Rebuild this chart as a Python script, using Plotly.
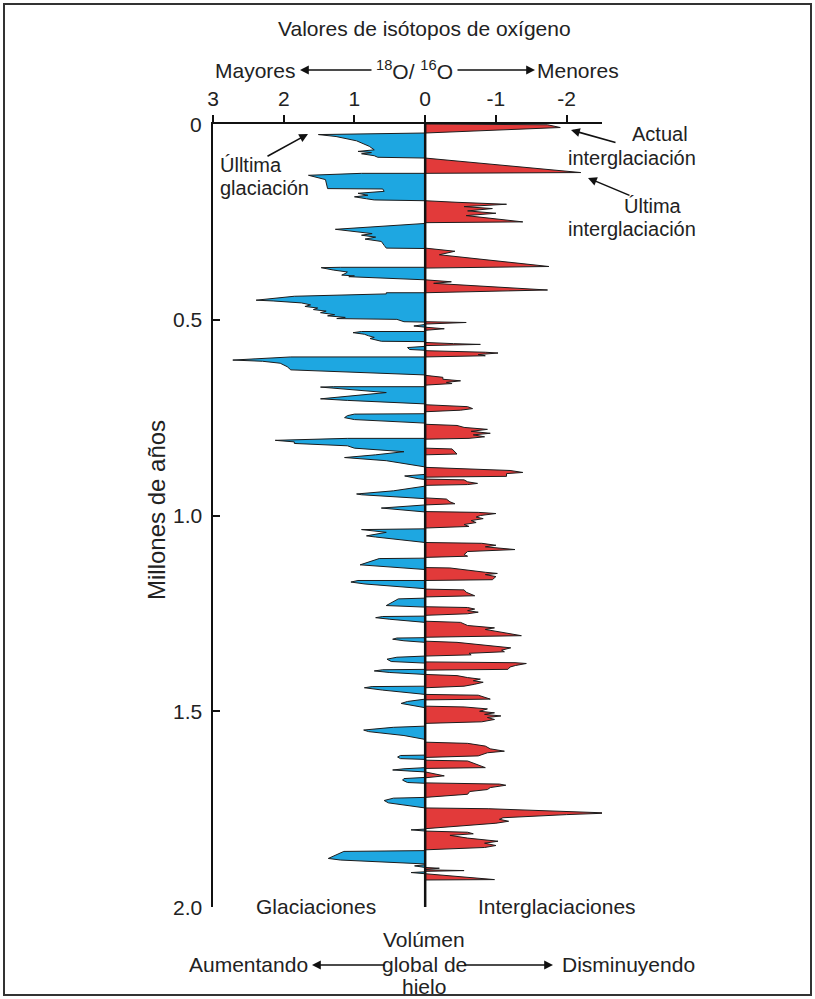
import plotly.graph_objects as go

# ---------------- data (age in Ma, delta-18O value) ----------------
# Glacial (positive, blue) spikes; each spike starts and ends at 0
blue_age = [
    0.023, 0.027, 0.032, 0.037, 0.043, 0.057, 0.066, 0.070, 0.073, 0.076, 0.081, 0.085, 0.087,
    0.126, 0.126, 0.131, 0.142, 0.165, 0.166, 0.172, 0.177, 0.182, 0.186, 0.191, 0.194, 0.196,
    0.254, 0.269, 0.274, 0.280, 0.284, 0.289, 0.294, 0.300, 0.310, 0.317, 0.318,
    0.366, 0.366, 0.367, 0.373, 0.378, 0.381, 0.386, 0.388, 0.390, 0.398,
    0.431, 0.431, 0.434, 0.440, 0.450, 0.452, 0.457, 0.462, 0.466, 0.470, 0.474, 0.478, 0.482,
    0.487, 0.490, 0.494, 0.497, 0.499, 0.505, 0.506,
    0.512, 0.516, 0.519,
    0.530, 0.530, 0.533, 0.537, 0.541, 0.545, 0.548, 0.552, 0.555, 0.556,
    0.568, 0.571, 0.576, 0.578,
    0.595, 0.595, 0.603, 0.606, 0.611, 0.620, 0.628, 0.641,
    0.671, 0.671, 0.672, 0.686, 0.702, 0.706, 0.713, 0.715,
    0.740, 0.741, 0.745, 0.750, 0.755, 0.762, 0.764,
    0.803, 0.803, 0.808, 0.812, 0.816, 0.822, 0.828, 0.837, 0.845, 0.852, 0.860, 0.870, 0.876,
    0.895, 0.899, 0.906, 0.908,
    0.925, 0.937, 0.945, 0.947, 0.957,
    0.973, 0.981, 0.985, 0.991,
    1.034, 1.035, 1.036, 1.043, 1.052, 1.055, 1.069,
    1.109, 1.110, 1.126, 1.130, 1.138,
    1.166, 1.166, 1.170, 1.175, 1.187,
    1.211, 1.213, 1.230, 1.234,
    1.257, 1.258, 1.261, 1.265, 1.273,
    1.312, 1.313, 1.316, 1.320, 1.324,
    1.359, 1.362, 1.367, 1.373, 1.377,
    1.393, 1.394, 1.397, 1.401, 1.406,
    1.436, 1.437, 1.440, 1.446, 1.457,
    1.469, 1.475, 1.480, 1.485, 1.491,
    1.538, 1.541, 1.548, 1.552, 1.562, 1.570, 1.572,
    1.612, 1.613, 1.617, 1.621, 1.623,
    1.644, 1.647, 1.650, 1.653, 1.655,
    1.669, 1.672, 1.676, 1.682, 1.684,
    1.720, 1.722, 1.728, 1.734, 1.747,
    1.801, 1.803, 1.806,
    1.856, 1.858, 1.876, 1.880, 1.890,
    1.892, 1.895, 1.899,
    1.910, 1.912, 1.915,
]
blue_val = [
    0, 1.51, 1.26, 1.14, 0.97, 0.79, 0.72, 0.95, 0.76, 0.90, 0.72, 0.67, 0,
    0, 0.90, 1.65, 1.41, 1.38, 0.60, 0.58, 0.95, 0.81, 1.00, 0.83, 0.72, 0,
    0, 1.27, 1.05, 0.75, 0.90, 0.70, 0.85, 0.62, 0.58, 0.55, 0,
    0, 1.20, 1.47, 1.30, 1.10, 1.12, 1.18, 1.00, 1.08, 0,
    0, 0.55, 0.55, 1.85, 2.39, 2.15, 1.75, 1.62, 1.70, 1.52, 1.58, 1.40, 1.48,
    1.28, 1.38, 1.13, 1.25, 0.40, 0.30, 0,
    0, 0.16, 0,
    0, 0.90, 1.02, 0.86, 0.80, 0.72, 0.78, 0.66, 0.62, 0,
    0, 0.25, 0.22, 0,
    0, 1.90, 2.72, 2.30, 2.05, 1.95, 1.90, 0,
    0, 1.30, 1.48, 0.55, 1.48, 1.10, 0.30, 0,
    0, 1.00, 1.10, 1.14, 1.00, 0.15, 0,
    0, 1.10, 2.12, 1.85, 1.85, 1.10, 1.00, 0.30, 0.70, 1.14, 0.55, 0.20, 0,
    0, 0.29, 0.10, 0,
    0, 0.45, 0.97, 0.90, 0,
    0, 0.62, 0.40, 0,
    0, 0.85, 0.90, 0.55, 0.83, 0.70, 0,
    0, 0.65, 0.92, 0.60, 0,
    0, 0.95, 1.05, 0.85, 0,
    0, 0.38, 0.55, 0,
    0, 0.60, 0.70, 0.50, 0,
    0, 0.40, 0.46, 0.30, 0,
    0, 0.40, 0.54, 0.48, 0,
    0, 0.60, 0.72, 0.50, 0,
    0, 0.75, 0.86, 0.60, 0,
    0, 0.25, 0.34, 0.20, 0,
    0, 0.45, 0.87, 0.80, 0.30, 0.05, 0,
    0, 0.35, 0.39, 0.35, 0,
    0, 0.30, 0.46, 0.20, 0,
    0, 0.30, 0.32, 0.25, 0,
    0, 0.45, 0.58, 0.52, 0,
    0, 0.20, 0,
    0, 1.15, 1.37, 1.20, 0,
    0, 0.15, 0,
    0, 0.20, 0,
]

# Interglacial (negative, red) spikes
red_age = [
    0.000, 0.002, 0.009, 0.023,
    0.087, 0.124, 0.126,
    0.196, 0.200, 0.205, 0.211, 0.216, 0.222, 0.228, 0.234, 0.240, 0.250, 0.252,
    0.317, 0.325, 0.334, 0.364, 0.368,
    0.398, 0.403, 0.407, 0.424, 0.431,
    0.505, 0.507, 0.511,
    0.519, 0.523, 0.527,
    0.558, 0.561, 0.563, 0.566,
    0.579, 0.583, 0.585, 0.589, 0.592, 0.595,
    0.642, 0.647, 0.652, 0.656, 0.660, 0.663, 0.667,
    0.717, 0.720, 0.722, 0.727, 0.731, 0.735,
    0.767, 0.770, 0.775, 0.780, 0.785, 0.790, 0.794, 0.799, 0.803, 0.805,
    0.828, 0.830, 0.843, 0.845,
    0.877, 0.885, 0.890, 0.893, 0.900, 0.902,
    0.907, 0.909, 0.914, 0.918, 0.921, 0.923,
    0.955, 0.958, 0.965, 0.970, 0.973,
    0.990, 0.992, 0.995, 1.000, 1.004, 1.008, 1.013, 1.018, 1.023, 1.028, 1.032,
    1.069, 1.071, 1.076, 1.080, 1.087, 1.092, 1.100, 1.104, 1.107,
    1.133, 1.134, 1.145, 1.148, 1.151, 1.156, 1.164, 1.166,
    1.188, 1.190, 1.196, 1.205, 1.208,
    1.233, 1.235, 1.239, 1.243, 1.247, 1.251, 1.255,
    1.270, 1.273, 1.281, 1.287, 1.291, 1.296, 1.307, 1.311,
    1.321, 1.324, 1.332, 1.338, 1.344, 1.348, 1.352, 1.356, 1.359,
    1.374, 1.376, 1.378, 1.383, 1.387, 1.393, 1.395,
    1.406, 1.409, 1.414, 1.418, 1.422, 1.426, 1.431, 1.436, 1.440,
    1.457, 1.459, 1.469, 1.471,
    1.487, 1.489, 1.494, 1.500, 1.504, 1.508, 1.512, 1.516, 1.521, 1.527, 1.531,
    1.579, 1.582, 1.589, 1.596, 1.602, 1.606, 1.614, 1.618,
    1.625, 1.627, 1.644, 1.646,
    1.655, 1.660, 1.665, 1.670,
    1.683, 1.686, 1.689, 1.695, 1.700, 1.705, 1.712, 1.720,
    1.747, 1.749, 1.760, 1.764, 1.772, 1.776, 1.781, 1.786, 1.792, 1.800,
    1.806, 1.809, 1.813, 1.817, 1.824, 1.832, 1.837, 1.843, 1.848, 1.854,
    1.899, 1.901, 1.904,
    1.905, 1.907, 1.909,
    1.915, 1.930, 1.931,
]
red_val = [
    0, -1.73, -1.91, 0,
    0, -2.20, 0,
    0, -0.45, -1.15, -0.55, -0.95, -0.60, -1.00, -0.58, -0.85, -1.38, 0,
    0, -0.42, -0.20, -1.75, 0,
    0, -0.37, -0.12, -1.73, 0,
    0, -0.58, 0,
    0, -0.27, 0,
    0, -0.40, -0.78, 0,
    0, -0.85, -1.03, -0.75, -0.85, 0,
    0, -0.25, -0.25, -0.50, -0.30, -0.38, 0,
    0, -0.45, -0.60, -0.67, -0.50, 0,
    0, -0.45, -0.55, -0.88, -0.65, -0.92, -0.68, -0.84, -0.62, 0,
    0, -0.38, -0.45, 0,
    0, -1.20, -1.38, -1.15, -1.15, 0,
    0, -0.55, -0.60, -0.74, -0.60, 0,
    0, -0.30, -0.35, -0.42, 0,
    0, -0.75, -1.00, -0.78, -0.72, -0.82, -0.65, -0.72, -0.55, -0.62, 0,
    0, -0.80, -1.00, -0.85, -1.27, -0.60, -0.55, -0.60, 0,
    0, -0.35, -0.85, -1.02, -0.85, -1.00, -0.95, 0,
    0, -0.55, -0.58, -0.70, 0,
    0, -0.60, -0.70, -0.60, -0.75, -0.60, 0,
    0, -0.50, -0.60, -0.98, -0.85, -1.00, -1.36, 0,
    0, -0.45, -0.95, -1.21, -1.08, -1.12, -0.62, -0.65, 0,
    0, -1.27, -1.43, -1.28, -1.20, -1.17, 0,
    0, -0.45, -0.60, -0.78, -0.68, -0.82, -0.70, -0.55, 0,
    0, -0.75, -0.92, 0,
    0, -0.55, -0.88, -0.77, -0.98, -0.84, -1.07, -0.88, -0.98, -0.80, 0,
    0, -0.60, -0.85, -0.92, -1.12, -0.88, -0.75, 0,
    0, -0.60, -0.85, 0,
    0, -0.12, -0.27, 0,
    0, -1.05, -1.14, -0.92, -0.88, -0.63, -0.60, 0,
    0, -0.90, -2.60, -2.00, -1.10, -1.05, -1.18, -1.00, -0.60, 0,
    0, -0.60, -0.68, -0.35, -0.60, -1.03, -0.84, -1.00, -0.84, 0,
    0, -0.20, 0,
    0, -0.55, 0,
    0, -0.98, 0,
]

x_ticks = [3, 2, 1, 0, -1, -2]
x_ticktext = ["3", "2", "1", "0", "-1", "-2"]
y_ticks = [0, 0.5, 1.0, 1.5, 2.0]
y_ticktext = ["0", "0.5", "1.0", "1.5", "2.0"]

# ---------------- figure ----------------
W, H = 815, 999
L, T = 213, 124
PW, PH = 389, 783
R, B = W - L - PW, H - T - PH
FONT = "Liberation Sans, Arial, sans-serif"
TXT = "#222222"


def px(x):
    """page pixel x -> paper coordinate"""
    return (x - L) / PW


def py(y):
    """page pixel y -> paper coordinate"""
    return (T + PH - y) / PH


fig = go.Figure()
fig.add_trace(go.Scatter(x=blue_val, y=blue_age, mode="lines", fill="tozerox",
                         fillcolor="#1ea7e1", line=dict(color="#1c1c1c", width=1),
                         hoverinfo="skip", showlegend=False))
fig.add_trace(go.Scatter(x=red_val, y=red_age, mode="lines", fill="tozerox",
                         fillcolor="#e23a3a", line=dict(color="#1c1c1c", width=1),
                         hoverinfo="skip", showlegend=False))

fig.update_layout(
    width=W, height=H,
    margin=dict(l=L, r=R, t=T, b=B, pad=0),
    paper_bgcolor="white", plot_bgcolor="white",
    font=dict(family=FONT, size=21, color=TXT),
    showlegend=False,
    xaxis=dict(range=[3, -2.5], side="top", tickvals=x_ticks, ticktext=x_ticktext,
               ticks="outside", ticklen=7, tickwidth=2, tickcolor="#111",
               showline=True, linewidth=2.5, linecolor="#111", showgrid=False,
               zeroline=False, tickfont=dict(size=21, color=TXT)),
    yaxis=dict(range=[2.0, 0], tickvals=y_ticks, showticklabels=False,
               ticks="inside", ticklen=7, tickwidth=2, tickcolor="#111",
               showline=True, linewidth=2.5, linecolor="#111", showgrid=False,
               zeroline=False),
)

# y tick labels (right-aligned, a little away from the axis)
for v, t in zip(y_ticks, y_ticktext):
    fig.add_annotation(text=t, x=px(204), y=v, xref="paper", yref="y",
                       showarrow=False, xanchor="right", yanchor="middle",
                       font=dict(size=21, color=TXT, family=FONT))

# zero line
fig.add_shape(type="line", xref="x", yref="y", x0=0, x1=0, y0=0, y1=2.012,
              line=dict(color="#111", width=2.5), layer="above")
# outer frame
fig.add_shape(type="rect", xref="paper", yref="paper",
              x0=px(4), x1=px(811), y0=py(995), y1=py(4),
              line=dict(color="#333", width=2), layer="above")


def text(s, x, y, size=21, xanchor="center", **kw):
    fig.add_annotation(text=s, x=px(x), y=py(y), xref="paper", yref="paper",
                       showarrow=False, xanchor=xanchor, yanchor="middle",
                       font=dict(size=size, color=TXT, family=FONT), **kw)


def arrow(x_head, y_head, x_tail, y_tail):
    fig.add_annotation(text="", x=px(x_head), y=py(y_head), xref="paper", yref="paper",
                       ax=x_tail - x_head, ay=y_tail - y_head, axref="pixel", ayref="pixel",
                       showarrow=True, arrowhead=2, arrowsize=1.1, arrowwidth=1.6,
                       arrowcolor="#111")


text("Valores de isótopos de oxígeno", 424, 28)
text("Mayores", 255, 70)
text("Menores", 578, 70)
text("<sup>18</sup>O/ <sup>16</sup>O", 414, 70)
arrow(300, 70, 373, 70)
arrow(535, 70, 456, 70)

text("Úlltima", 218, 165, size=20, xanchor="left")
text("glaciación", 218, 188, size=20, xanchor="left")
arrow(308, 134, 266, 157)

text("Actual", 690, 134, size=20, xanchor="right")
text("interglaciación", 698, 158, size=20, xanchor="right")
arrow(571, 130, 617, 143)

text("Última", 684, 206, size=20, xanchor="right")
text("interglaciación", 698, 229, size=20, xanchor="right")
arrow(588, 178, 631, 196)

text("Millones de años", 156, 510, size=24, textangle=-90)

text("Glaciaciones", 316, 906)
text("Interglaciaciones", 557, 906)

text("Volúmen", 424, 939)
text("global de", 424, 964)
text("hielo", 424, 986)
text("Aumentando", 248, 965)
text("Disminuyendo", 628, 965)
arrow(312, 965, 386, 965)
arrow(553, 965, 463, 965)

fig.write_html(
    "out.html",
    config={"displayModeBar": False, "staticPlot": True},
    post_script=("document.documentElement.style.margin='0';"
                 "document.body.style.margin='0';"
                 "document.documentElement.style.overflow='hidden';"
                 "document.body.style.overflow='hidden';"),
)
